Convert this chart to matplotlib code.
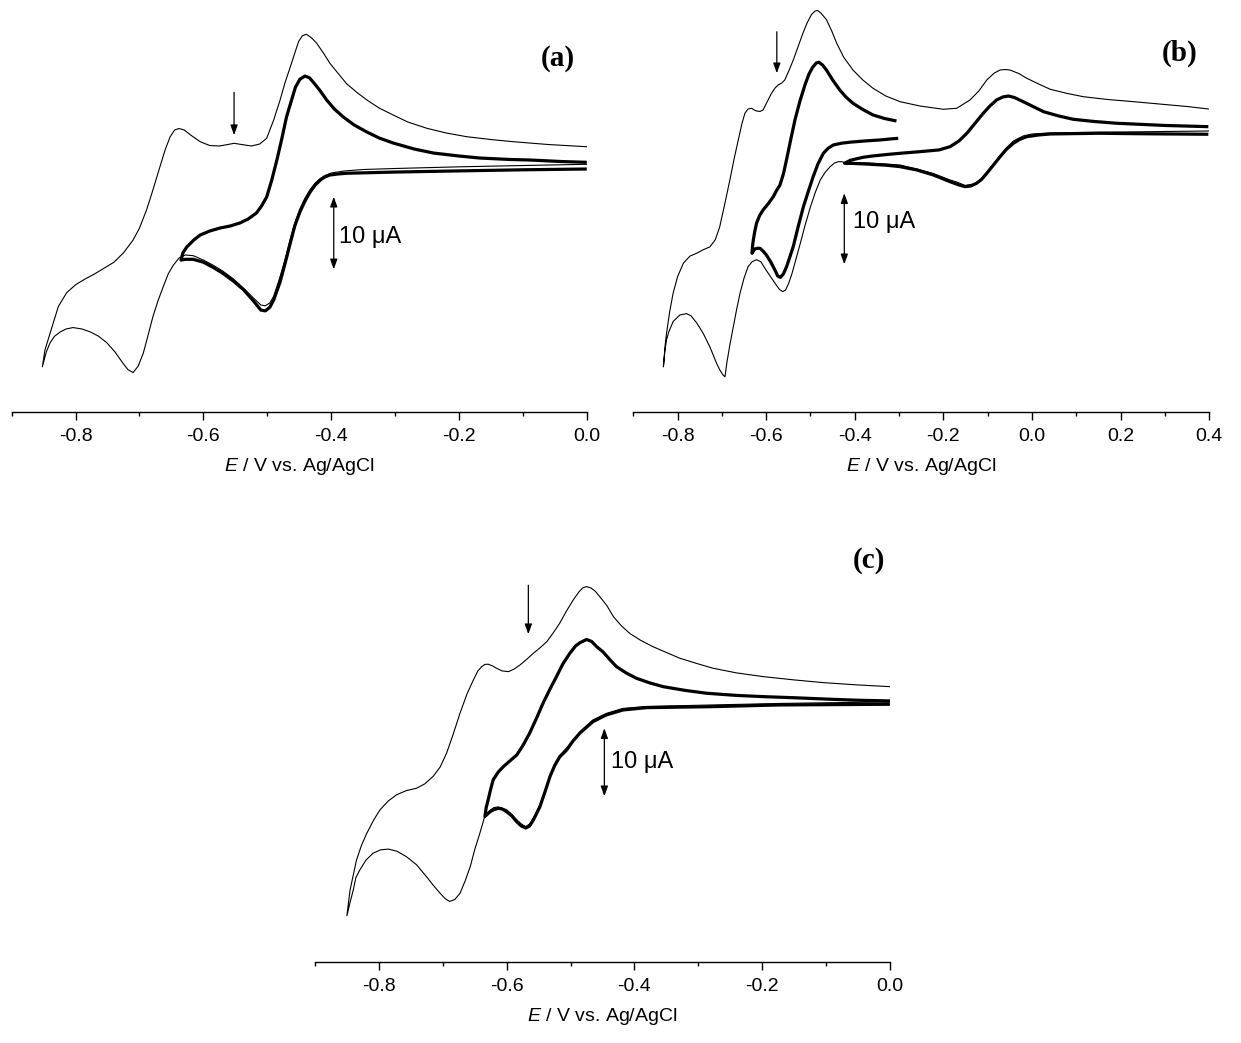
import matplotlib
matplotlib.use("Agg")
import matplotlib.pyplot as plt
from matplotlib.ticker import MultipleLocator, FormatStrFormatter

plt.rcParams['font.family'] = ['Liberation Sans', 'DejaVu Sans']
plt.rcParams['mathtext.fontset'] = 'custom'
plt.rcParams['mathtext.it'] = 'Liberation Sans:italic'
plt.rcParams['mathtext.rm'] = 'Liberation Sans'
plt.rcParams['axes.unicode_minus'] = False

# ---------------- panel (a) ----------------
Ea_thin = [0.0, -0.1, -0.2, -0.3, -0.35, -0.38, -0.40, -0.41, -0.417, -0.425, -0.433, -0.441, -0.449,
           -0.457, -0.464, -0.472, -0.48, -0.49, -0.496, -0.503, -0.51, -0.522, -0.537, -0.553, -0.57,
           -0.585, -0.6, -0.616, -0.628, -0.638, -0.647, -0.655, -0.663, -0.671, -0.679, -0.687, -0.694,
           -0.702, -0.71, -0.718, -0.726, -0.738, -0.751, -0.764, -0.777, -0.79, -0.804, -0.815, -0.824,
           -0.833, -0.84, -0.846, -0.852,
           -0.848, -0.84, -0.827, -0.814, -0.8, -0.785, -0.77, -0.755, -0.74, -0.725, -0.71, -0.7, -0.689,
           -0.68, -0.668, -0.66, -0.652, -0.645, -0.638, -0.63, -0.62, -0.605, -0.59, -0.575, -0.562,
           -0.552, -0.54, -0.525, -0.512, -0.501, -0.49, -0.48, -0.472, -0.464, -0.457, -0.451, -0.445,
           -0.439, -0.432, -0.423, -0.412, -0.402, -0.39, -0.376, -0.36, -0.344, -0.325, -0.303, -0.28,
           -0.25, -0.22, -0.188, -0.15, -0.115, -0.06, 0.0]
Ia_thin = [0.79, 0.62, 0.44, 0.21, 0.07, -0.14, -0.41, -0.76, -1.17, -1.79, -2.69, -3.86, -5.37,
           -7.3, -9.5, -12.3, -14.7, -17.4, -18.3, -18.7, -18.6, -17.6, -16.3, -15.0, -13.9,
           -13.1, -12.4, -11.8, -11.7, -12.1, -13.1, -14.3, -16.1, -18.0, -20.2, -22.9, -25.2,
           -27.0, -27.9, -27.5, -26.6, -25.1, -23.8, -22.9, -22.3, -21.9, -21.7, -21.9, -22.3,
           -22.9, -23.8, -25.1, -27.1,
           -24.8, -22.5, -18.8, -16.9, -15.8, -15.0, -14.3, -13.5, -12.7, -11.4, -9.64, -7.99, -5.51,
           -3.03, 0.45, 2.75, 4.59, 5.51, 5.72, 5.51, 4.82, 3.9, 3.37, 3.31, 3.51,
           3.68, 3.51, 3.31, 3.58, 4.37, 6.89, 9.64, 12.1, 14.2, 16.1, 17.7, 18.5,
           18.7, 18.3, 17.5, 16.1, 14.7, 13.4, 11.9, 10.7, 9.64, 8.54, 7.58, 6.61,
           5.74, 5.1, 4.59, 4.2, 3.9, 3.51, 3.21]

Ea_thick = [0.0, -0.1, -0.2, -0.3, -0.35, -0.376, -0.39, -0.402, -0.41, -0.417, -0.425, -0.433, -0.441,
            -0.449, -0.457, -0.464, -0.472, -0.48, -0.49, -0.496, -0.503, -0.51, -0.522, -0.537, -0.553,
            -0.57, -0.585, -0.6, -0.616, -0.628, -0.635,
            -0.632, -0.626, -0.615, -0.605, -0.59, -0.574, -0.558, -0.543, -0.53, -0.517, -0.509, -0.501,
            -0.493, -0.485, -0.477, -0.47, -0.462, -0.456, -0.449, -0.441, -0.434, -0.428, -0.418, -0.407,
            -0.395, -0.381, -0.364, -0.344, -0.325, -0.303, -0.27, -0.24, -0.2, -0.167, -0.12, -0.089,
            -0.04, 0.0]
Ia_thick = [0.14, 0.03, -0.12, -0.28, -0.39, -0.45, -0.55, -0.69, -0.96, -1.38, -2.07, -3.03, -4.27,
            -5.79, -7.71, -10.06, -12.8, -15.43, -17.9, -18.9, -19.4, -19.3, -18.0, -16.5, -15.3,
            -14.2, -13.4, -12.7, -12.3, -12.3, -12.4,
            -11.4, -10.6, -9.64, -8.95, -8.4, -7.99, -7.71, -7.3, -6.75, -5.92, -4.96, -3.72,
            -1.38, 1.38, 4.41, 7.3, 9.64, 11.4, 12.5, 12.95, 12.7, 12.1, 11.0, 9.64,
            8.4, 7.3, 6.2, 5.23, 4.41, 3.72, 2.89, 2.34, 1.93, 1.65, 1.45, 1.38,
            1.17, 1.06]

# ---------------- panel (b) ----------------
Eb_thin = [0.4, 0.3, 0.2, 0.1, 0.04, 0.0, -0.02, -0.042, -0.058, -0.072, -0.087, -0.102, -0.115,
           -0.13, -0.151, -0.17, -0.185, -0.223, -0.26, -0.298, -0.33, -0.37, -0.404, -0.423, -0.43,
           -0.437, -0.446, -0.4555, -0.467, -0.478, -0.489, -0.5, -0.512, -0.523, -0.533, -0.5415,
           -0.549, -0.5565, -0.563, -0.57, -0.577, -0.588, -0.6, -0.612, -0.622, -0.632, -0.641, -0.65,
           -0.659, -0.667, -0.674, -0.682, -0.689, -0.693, -0.698, -0.705, -0.712, -0.727, -0.742,
           -0.757, -0.77, -0.78, -0.795, -0.81, -0.82, -0.825, -0.829, -0.832,
           -0.828, -0.825, -0.818, -0.81, -0.8, -0.787, -0.772, -0.757, -0.742, -0.727, -0.715, -0.705,
           -0.694, -0.682, -0.672, -0.663, -0.655, -0.648, -0.641, -0.633, -0.627, -0.622, -0.614,
           -0.607, -0.598, -0.588, -0.58, -0.573, -0.565, -0.558, -0.549, -0.539, -0.528, -0.517,
           -0.508, -0.498, -0.49, -0.484, -0.476, -0.464, -0.452, -0.441, -0.425, -0.404, -0.382,
           -0.359, -0.33, -0.298, -0.253, -0.2, -0.17, -0.14, -0.12, -0.102, -0.085, -0.072, -0.06,
           -0.05, -0.03, -0.012, 0.015, 0.041, 0.08, 0.116, 0.17, 0.229, 0.3, 0.35, 0.398]
Ib_thin = [0.42, 0.35, 0.28, 0.21, 0.14, 0.0, -0.28, -0.99, -1.97, -3.03, -4.23, -5.35, -6.34,
           -7.04, -7.25, -6.76, -6.48, -5.56, -4.93, -4.37, -4.23, -4.08, -4.01, -4.01, -3.9,
           -3.9, -4.1, -4.6, -5.4, -6.48, -8.2, -10.24, -12.8, -15.4, -17.7, -19.6,
           -21.0, -22.0, -22.2, -21.9, -21.3, -20.3, -19.2, -18.0, -17.7, -18.0, -18.7, -20.3,
           -22.4, -24.8, -27.1, -29.7, -32.3, -34.2, -33.9, -33.2, -32.3, -30.0, -28.1,
           -26.6, -25.6, -25.3, -25.5, -26.4, -27.9, -29.0, -30.7, -32.8,
           -29.7, -28.1, -25.1, -22.4, -20.1, -18.2, -17.2, -16.8, -16.3, -15.9, -14.9, -13.1,
           -10.0, -6.48, -3.38, -0.85, 1.41, 2.92, 3.52, 3.62, 3.38, 3.24, 3.17,
           3.38, 4.51, 5.73, 6.48, 6.9, 7.18, 7.61, 8.87, 10.4, 12.3, 14.2,
           15.6, 16.8, 17.3, 17.4, 17.0, 16.1, 14.5, 12.8, 10.8, 9.0, 7.61,
           6.44, 5.35, 4.55, 3.94, 3.48, 3.62, 4.79, 6.06, 7.61, 8.59, 9.01, 9.08,
           9.01, 8.52, 7.85, 7.04, 6.3, 5.7, 5.25, 4.86, 4.55, 4.15, 3.87, 3.52]

# second couple, thick (switching at 0.4 V and -0.42 V)
Eb_thick2 = [0.398, 0.25, 0.153, 0.041, 0.015, -0.012, -0.028, -0.042, -0.058, -0.072, -0.087, -0.102,
             -0.114, -0.125, -0.138, -0.151, -0.165, -0.185, -0.223, -0.26, -0.298, -0.329, -0.37,
             -0.404, -0.423,
             -0.41, -0.381, -0.36, -0.329, -0.298, -0.253, -0.21, -0.185, -0.165, -0.147,
             -0.128, -0.11, -0.095, -0.08, -0.066, -0.053, -0.04, -0.02, 0.0, 0.026, 0.06, 0.093,
             0.14, 0.191, 0.3, 0.398]
Ib_thick2 = [-0.04, 0.03, 0.1, 0.0, -0.14, -0.38, -0.77, -1.31, -2.18, -3.2, -4.37, -5.54,
             -6.41, -6.94, -7.32, -7.42, -7.18, -6.72, -5.77, -5.07, -4.6, -4.4, -4.25,
             -4.15, -4.13,
             -3.7, -3.28, -3.1, -2.9, -2.72, -2.49, -2.25, -1.79, -0.99, 0.1,
             1.55, 2.92, 3.94, 4.79, 5.21, 5.35, 5.14, 4.55, 3.94, 3.14, 2.54, 2.07,
             1.76, 1.51, 1.2, 1.03]

# first couple, thick (switching at -0.3 V and -0.63 V)
Eb_thick1 = [-0.302, -0.32, -0.344, -0.37, -0.39, -0.41, -0.43, -0.4485, -0.46, -0.471, -0.483,
             -0.494, -0.505, -0.516, -0.528, -0.539, -0.547, -0.554, -0.561, -0.568, -0.574, -0.58,
             -0.59, -0.6, -0.607, -0.614, -0.62, -0.626, -0.632,
             -0.631, -0.629, -0.626, -0.622, -0.615, -0.607, -0.595, -0.584, -0.576, -0.569, -0.561,
             -0.554, -0.545, -0.535, -0.524, -0.512, -0.503, -0.495, -0.487, -0.481, -0.473, -0.464,
             -0.45, -0.434, -0.42, -0.404, -0.382, -0.359, -0.333, -0.306]
Ib_thick1 = [-0.61, -0.7, -0.85, -0.95, -1.05, -1.15, -1.3, -1.55, -2.0, -2.72, -4.2,
             -6.01, -8.1, -10.24, -13.1, -15.87, -17.4, -18.69, -19.7, -20.2, -20.0, -19.2,
             -18.0, -17.0, -16.5, -16.1, -16.1, -16.2, -16.8,
             -15.9, -14.9, -13.8, -12.6, -11.5, -10.7, -9.79, -8.83, -7.9, -7.2, -5.6,
             -3.6, -0.9, 2.0, 4.6, 7.0, 8.5, 9.4, 10.0, 10.1, 9.72, 9.01,
             7.61, 6.2, 5.21, 4.32, 3.45, 2.68, 2.18, 1.83]

# ---------------- panel (c) ----------------
Ec_thin = [0.0, -0.1, -0.172, -0.277, -0.381, -0.418, -0.444, -0.465, -0.485, -0.506, -0.517, -0.525,
           -0.532, -0.54, -0.548, -0.558, -0.564, -0.57, -0.577, -0.584, -0.592, -0.6, -0.613, -0.62,
           -0.626, -0.634, -0.642, -0.65, -0.657, -0.665, -0.673, -0.681, -0.689, -0.696, -0.704,
           -0.715, -0.725, -0.741, -0.757, -0.772, -0.785, -0.797, -0.809, -0.82, -0.83, -0.836,
           -0.84, -0.845, -0.85,
           -0.848, -0.845, -0.84, -0.835, -0.827, -0.819, -0.808, -0.798, -0.785, -0.772, -0.757,
           -0.741, -0.728, -0.715, -0.704, -0.694, -0.684, -0.673, -0.662, -0.652, -0.645, -0.639,
           -0.634, -0.629, -0.622, -0.616, -0.607, -0.597, -0.588, -0.579, -0.568, -0.558, -0.547,
           -0.537, -0.527, -0.517, -0.507, -0.496, -0.487, -0.481, -0.475, -0.468, -0.461, -0.454,
           -0.443, -0.433, -0.42, -0.407, -0.39, -0.371, -0.35, -0.329, -0.3, -0.277, -0.24, -0.198,
           -0.15, -0.104, -0.05, 0.0]
Ic_thin = [0.44, 0.32, 0.22, 0.0, -0.22, -0.51, -1.25, -2.21, -3.9, -6.32, -7.43, -8.68,
           -10.4, -12.6, -14.7, -16.6, -17.5, -17.9, -17.5, -16.9, -16.1, -15.4, -15.0, -15.1,
           -15.5, -16.3, -18.9, -21.3, -23.8, -25.9, -27.7, -28.6, -28.9, -28.5, -27.7,
           -26.5, -25.3, -23.5, -22.3, -21.5, -21.2, -21.3, -21.8, -22.8, -24.3, -25.4,
           -27.2, -29.0, -31.0,
           -29.4, -27.2, -25.0, -22.8, -20.6, -18.9, -16.9, -15.4, -14.1, -13.2, -12.6,
           -12.25, -11.6, -10.5, -9.12, -7.1, -4.41, -1.22, 1.62, 3.68, 5.0, 5.63,
           5.96, 5.99, 5.74, 5.4, 5.0, 4.9, 5.29, 5.88, 6.76, 7.6, 8.46,
           9.31, 10.6, 12.0, 13.7, 15.4, 16.6, 17.2, 17.4, 17.2, 16.7, 15.9,
           14.6, 13.0, 11.6, 10.5, 9.49, 8.57, 7.72, 6.87, 6.03, 5.4, 4.71, 4.16,
           3.68, 3.28, 2.94, 2.69]

Ec_thick = [0.0, -0.1, -0.172, -0.277, -0.381, -0.418, -0.444, -0.465, -0.485, -0.496, -0.506, -0.517,
            -0.525, -0.532, -0.54, -0.548, -0.558, -0.564, -0.57, -0.577, -0.584, -0.592, -0.6, -0.607,
            -0.613, -0.62, -0.626, -0.634,
            -0.632, -0.629, -0.625, -0.621, -0.613, -0.605, -0.595, -0.584, -0.574, -0.564, -0.553,
            -0.543, -0.532, -0.522, -0.512, -0.501, -0.492, -0.485, -0.475, -0.467, -0.459, -0.449,
            -0.438, -0.428, -0.413, -0.397, -0.376, -0.355, -0.32, -0.287, -0.24, -0.198, -0.15,
            -0.094, -0.05, 0.0]
Ic_thick = [0.1, 0.04, 0.0, -0.25, -0.4, -0.74, -1.47, -2.46, -4.12, -5.29, -6.62, -7.65,
            -8.97, -10.5, -12.8, -15.0, -16.9, -17.8, -18.1, -17.8, -17.2, -16.3, -15.7, -15.3,
            -15.2, -15.4, -15.7, -16.4,
            -15.1, -14.0, -12.4, -11.0, -9.85, -9.07, -8.24, -7.35, -5.88, -4.16, -1.91,
            0.25, 2.35, 4.16, 6.03, 7.6, 8.68, 9.16, 9.63, 9.34, 8.57, 7.79,
            6.62, 5.63, 4.71, 3.93, 3.24, 2.69, 2.13, 1.72, 1.4, 1.22, 1.06,
            0.84, 0.69, 0.59]

labels = ['(a)', '(b)', '(c)']
scale_text = '10 μA'

fig = plt.figure(figsize=(12.41, 10.43), dpi=100)

ax_a = fig.add_axes([0.00943, 0.6050, 0.4634, 0.3950])
ax_b = fig.add_axes([0.5103, 0.6047, 0.4641, 0.3953])
ax_c = fig.add_axes([0.2538, 0.0774, 0.4633, 0.4049])

thin = dict(color='black', lw=0.8, solid_joinstyle='round')
thick = dict(color='black', lw=2.3, solid_joinstyle='round', solid_capstyle='butt')

ax_a.plot(Ea_thin, Ia_thin, **thin)
ax_a.plot(Ea_thick, Ia_thick, **thick)
ax_b.plot(Eb_thin, Ib_thin, **thin)
ax_b.plot(Eb_thick2, Ib_thick2, **thick)
ax_b.plot(Eb_thick1, Ib_thick1, **thick)
ax_c.plot(Ec_thin, Ic_thin, **thin)
ax_c.plot(Ec_thick, Ic_thick, **thick)

# axis ranges, shoulder arrow, scale bar, scale text and panel label positions
setup = [
    (ax_a, (-0.9, 0.0), (-33.33, 23.42), -0.552, (10.7, 4.8), -0.396, (-3.68, -13.68), (-0.387, -9.19), (0.95, 0.859)),
    (ax_b, (-0.9, 0.4), (-39.2, 18.87), -0.576, (14.4, 8.55), -0.4237, (-8.35, -18.35), (-0.4034, -12.35), (0.949, 0.871)),
    (ax_c, (-0.9, 0.0), (-37.84, 24.26), -0.566, (17.6, 10.4), -0.447, (-3.43, -13.43), (-0.437, -8.34), (0.964, 0.951)),
]

for (ax, xl, yl, xarr, yarr, xbar, ybar, tpos, lpos), lab in zip(setup, labels):
    ax.set_xlim(*xl)
    ax.set_ylim(*yl)
    for side in ['left', 'right', 'top']:
        ax.spines[side].set_visible(False)
    ax.spines['bottom'].set_linewidth(1.0)
    ax.set_yticks([])
    ax.xaxis.set_major_locator(MultipleLocator(0.2))
    ax.xaxis.set_minor_locator(MultipleLocator(0.1))
    ax.tick_params(axis='x', which='major', direction='out', length=5.5, width=1.0, labelsize=14, pad=6)
    ax.tick_params(axis='x', which='minor', direction='out', length=3, width=1.0)
    ax.xaxis.set_major_formatter(FormatStrFormatter('%.1f'))
    ax.set_xlabel('$E$ / V vs. Ag/AgCl', fontsize=14, labelpad=8)
    ax.patch.set_visible(False)

    # marker arrow for the shoulder
    ax.annotate('', xy=(xarr, yarr[1]), xytext=(xarr, yarr[0]),
                arrowprops=dict(arrowstyle='-|>,head_length=0.5,head_width=0.18', lw=0.9, color='black',
                                shrinkA=0, shrinkB=0, mutation_scale=12))
    # current scale bar
    ax.annotate('', xy=(xbar, ybar[1]), xytext=(xbar, ybar[0]),
                arrowprops=dict(arrowstyle='<|-|>,head_length=0.5,head_width=0.18', lw=0.9, color='black',
                                shrinkA=0, shrinkB=0, mutation_scale=12))
    ax.text(tpos[0], tpos[1], scale_text, fontsize=17, ha='left', va='center')
    ax.text(lpos[0], lpos[1], lab, transform=ax.transAxes, fontsize=21, fontweight='bold',
            family='Liberation Serif', ha='center', va='center')

fig.savefig('out.png', dpi=100)
